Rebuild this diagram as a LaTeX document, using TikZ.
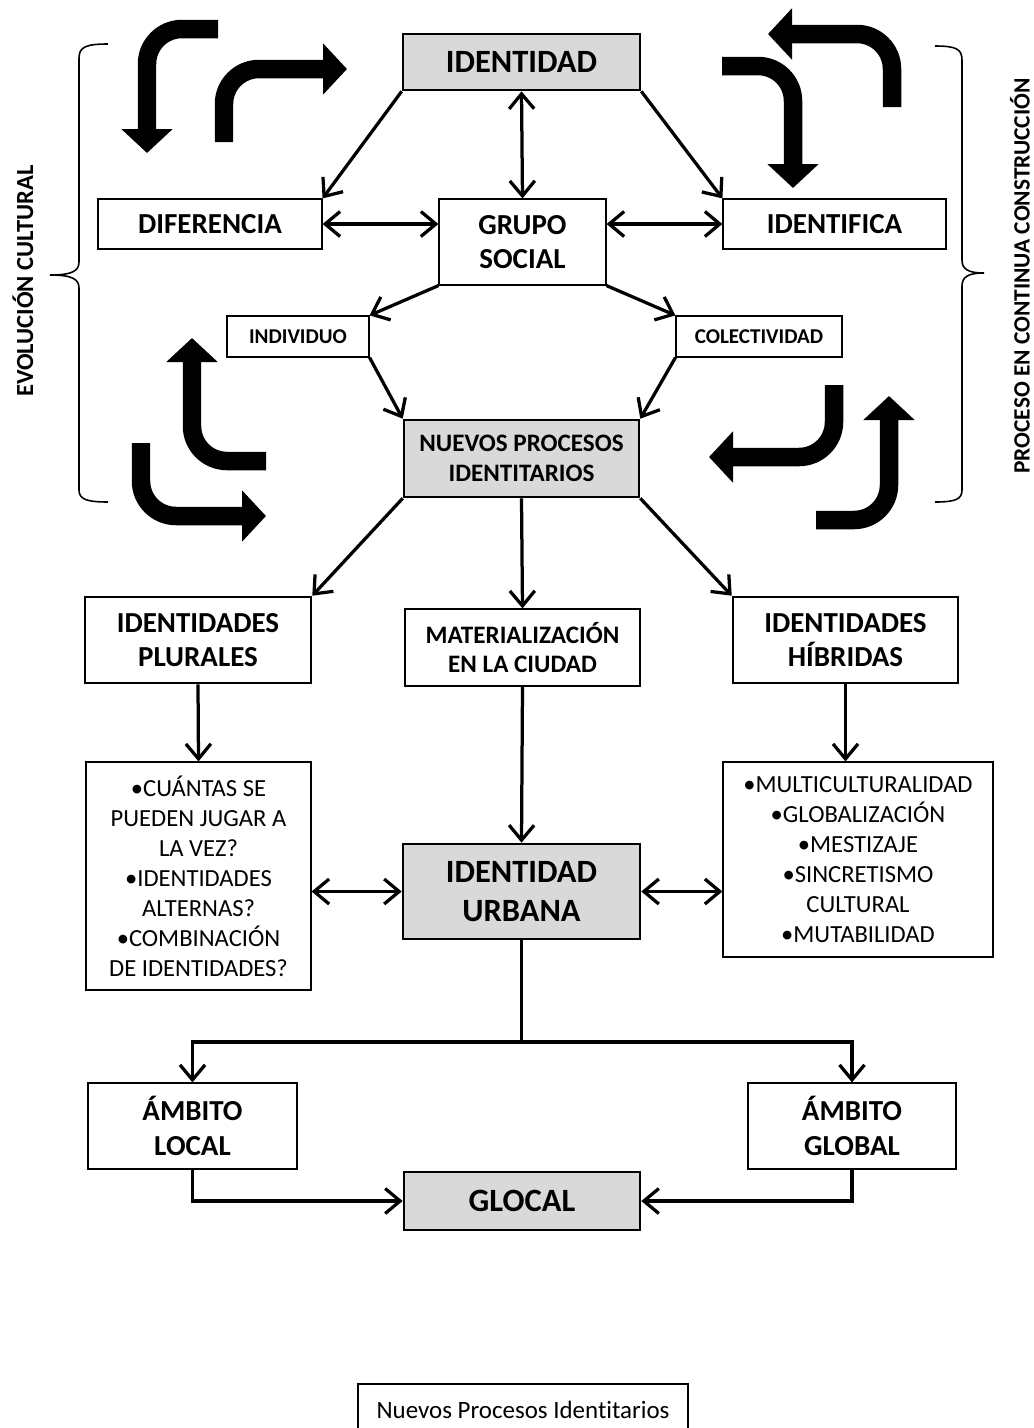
\documentclass[tikz,border=0pt]{standalone}
\usepackage{fontspec}
\setmainfont{Carlito}[Ligatures=NoCommon]
\usepackage{tikz}
\usetikzlibrary{arrows.meta}
\definecolor{boxgray}{RGB}{217,217,217}

\begin{document}
\begin{tikzpicture}[
    x=0.02cm, y=-0.02cm,
    box/.style={draw, line width=0.7pt, align=center, inner sep=0pt, font=\bfseries\fontsize{16.5}{19.8}\selectfont},
    keybox/.style={box, fill=boxgray, line width=1.5pt, font=\bfseries\fontsize{18.5}{22.6}\selectfont},
    thickbox/.style={box, line width=1.5pt},
    smallbox/.style={box, font=\bfseries\fontsize{12}{14}\selectfont},
    midbox/.style={box, font=\bfseries\fontsize{14.3}{17}\selectfont},
    listbox/.style={box, font=\fontsize{14}{17.1}\selectfont},
    conn/.style={line width=0.065cm, -{Straight Barb[length=0.3cm,width=0.5cm]}},
    dconn/.style={conn, {Straight Barb[length=0.3cm,width=0.5cm]}-{Straight Barb[length=0.3cm,width=0.5cm]}},
    bigarrow/.style={line width=0.37cm, rounded corners=0.7cm, -{Triangle[length=0.48cm,width=1cm]}},
    brace/.style={line width=0.9pt},
    side/.style={rotate=90, font=\bfseries\fontsize{14}{16}\selectfont}
]
    \useasboundingbox (0,0) rectangle (1034,1428);

    % Upper block
    \node[keybox, minimum width=4.74cm, minimum height=1.12cm] (identidad) at (521.5,62) {IDENTIDAD};
    \node[box, minimum width=4.48cm, minimum height=1cm] (diferencia) at (210,224) {DIFERENCIA};
    \node[box, minimum width=3.34cm, minimum height=1.72cm] (grupo) at (522.5,242) {GRUPO\\SOCIAL};
    \node[box, minimum width=4.46cm, minimum height=1cm] (identifica) at (834.5,224) {IDENTIFICA};
    \node[smallbox, minimum width=2.84cm, minimum height=0.82cm] (individuo) at (298,336.5) {INDIVIDUO};
    \node[smallbox, minimum width=3.32cm, minimum height=0.82cm] (colectividad) at (759,336.5) {COLECTIVIDAD};
    \node[keybox, midbox, fill=boxgray, line width=1.5pt, minimum width=4.7cm, minimum height=1.54cm] (nuevos) at (521.5,458.5) {NUEVOS PROCESOS\\IDENTITARIOS};

    % Middle block
    \node[thickbox, minimum width=4.52cm, minimum height=1.72cm] (plurales) at (198,640) {IDENTIDADES\\PLURALES};
    \node[midbox, minimum width=4.7cm, minimum height=1.54cm] (materializacion) at (522.5,647.5) {MATERIALIZACIÓN\\EN LA CIUDAD};
    \node[thickbox, minimum width=4.5cm, minimum height=1.72cm] (hibridas) at (845.5,640) {IDENTIDADES\\HÍBRIDAS};
    \node[listbox, minimum width=4.5cm, minimum height=4.56cm] (listaplural) at (198.5,876) {•CUÁNTAS SE\\PUEDEN JUGAR A\\LA VEZ?\\•IDENTIDADES\\ALTERNAS?\\•COMBINACIÓN\\DE IDENTIDADES?};
    \node[keybox, minimum width=4.74cm, minimum height=1.9cm] (urbana) at (521.5,891.5) {IDENTIDAD\\URBANA};
    \node[listbox, minimum width=5.4cm, minimum height=3.9cm] (listahibrida) at (858,859.5) {•MULTICULTURALIDAD\\•GLOBALIZACIÓN\\•MESTIZAJE\\•SINCRETISMO\\CULTURAL\\•MUTABILIDAD};

    % Lower block
    \node[box, minimum width=4.18cm, minimum height=1.72cm] (local) at (192.5,1126) {ÁMBITO\\LOCAL};
    \node[box, minimum width=4.16cm, minimum height=1.72cm] (global) at (852,1126) {ÁMBITO\\GLOBAL};
    \node[keybox, minimum width=4.72cm, minimum height=1.16cm] (glocal) at (522,1201) {GLOCAL};
    \node[box, font=\fontsize{14.2}{16}\selectfont, minimum width=6.6cm, minimum height=1.04cm] (leyenda) at (523,1410) {Nuevos Procesos Identitarios};

    % Side labels and braces
    \node[side] (evolucion) at (23,281) {EVOLUCIÓN CULTURAL};
    \node[side, font=\bfseries\fontsize{13.3}{16}\selectfont] (proceso) at (1020,276) {PROCESO EN CONTINUA CONSTRUCCIÓN};
    \draw[brace] (108,44) .. controls (86,44) and (79,47) .. (79,58) -- (79,262)
        .. controls (79,271) and (72,275) .. (50,275)
        .. controls (72,275) and (79,279) .. (79,288) -- (79,490)
        .. controls (79,499) and (86,502) .. (108,502);
    \draw[brace] (935,46) .. controls (956,46) and (962,49) .. (962,60) -- (962,260)
        .. controls (962,269) and (968,273) .. (984,273)
        .. controls (968,273) and (962,277) .. (962,286) -- (962,490)
        .. controls (962,499) and (956,502) .. (935,502);

    % Turning arrows
    \draw[bigarrow] (218,29) -- (147,29) -- (147,153);
    \draw[bigarrow] (224,142) -- (224,69) -- (347,69);
    \draw[bigarrow] (892,107) -- (892,34) -- (768,34);
    \draw[bigarrow] (722,66) -- (793,66) -- (793,188);
    \draw[bigarrow] (266,461) -- (192,461) -- (192,338);
    \draw[bigarrow] (141,443) -- (141,516) -- (266,516);
    \draw[bigarrow] (834,385) -- (834,457) -- (709,457);
    \draw[bigarrow] (816,520) -- (889,520) -- (889,396);

    % Connectors
    \draw[conn] (identidad.south west) -- (diferencia.north east);
    \draw[dconn] (identidad.south) -- (grupo.north);
    \draw[conn] (identidad.south east) -- (identifica.north west);
    \draw[dconn] (diferencia.east) -- (diferencia.east -| grupo.west);
    \draw[dconn] (grupo.east |- identifica.west) -- (identifica.west);
    \draw[conn] (grupo.south west) -- (individuo.north east);
    \draw[conn] (grupo.south east) -- (colectividad.north west);
    \draw[conn] (individuo.south east) -- (nuevos.north west);
    \draw[conn] (colectividad.south west) -- (nuevos.north east);
    \draw[conn] (nuevos.south west) -- (plurales.north east);
    \draw[conn] (nuevos.south) -- (materializacion.north);
    \draw[conn] (nuevos.south east) -- (hibridas.north west);
    \draw[conn] (plurales.south) -- (listaplural.north);
    \draw[conn] (hibridas.south) -- (hibridas.south |- listahibrida.north);
    \draw[conn] (materializacion.south) -- (urbana.north);
    \draw[dconn] (urbana.west) -- (urbana.west -| listaplural.east);
    \draw[dconn] (urbana.east) -- (urbana.east -| listahibrida.west);
    \coordinate (reparto) at (521.5,1042);
    \draw[line width=0.065cm] (urbana.south) -- (reparto);
    \draw[conn] (reparto) -| (local.north);
    \draw[conn] (reparto) -| (global.north);
    \draw[conn] (local.south) |- (glocal.west);
    \draw[conn] (global.south) |- (glocal.east);
\end{tikzpicture}
\end{document}
